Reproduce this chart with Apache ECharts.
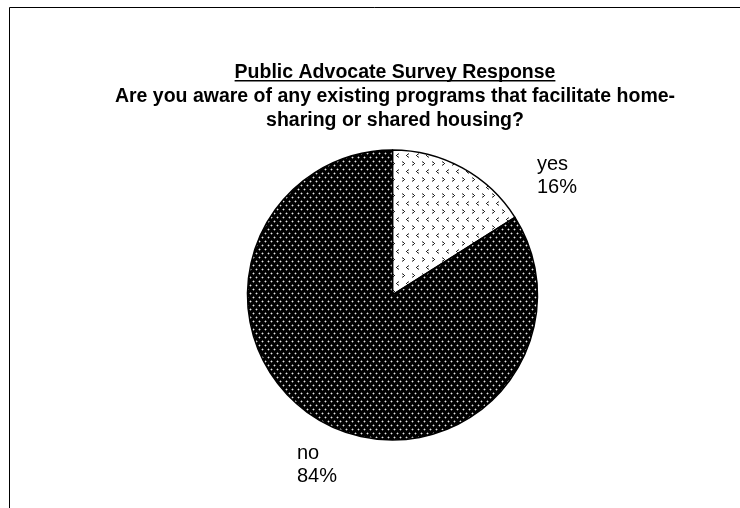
<!DOCTYPE html>
<html>
<head>
<meta charset="utf-8">
<script src="https://cdn.jsdelivr.net/npm/echarts@6/dist/echarts.min.js"></script>
<style>
  html, body { margin: 0; padding: 0; background: #fff; }
  #chart { width: 740px; height: 508px; }
</style>
</head>
<body>
<div id="chart"></div>
<script>
// Survey answers and their shares (percent)
const categories = ['yes', 'no'];
const shares = [16, 84];
const headline = 'Public Advocate Survey Response';
const question = ['Are you aware of any existing programs that facilitate home-', 'sharing or shared housing?'];

const FONT = '"Liberation Sans", Arial, sans-serif';
const TITLE_SIZE = 19.5;

// Fill textures for the two slices
function makeTile(w, h, draw) {
  const c = document.createElement('canvas');
  c.width = w; c.height = h;
  const ctx = c.getContext('2d');
  draw(ctx);
  return c;
}
// dark slice: black with staggered light dots
const dotTile = makeTile(6, 8, ctx => {
  ctx.fillStyle = '#000';
  ctx.fillRect(0, 0, 6, 8);
  [[1, 1], [4, 5]].forEach(([x, y]) => {
    ctx.fillStyle = '#5a5a5a';
    ctx.fillRect(x - 1, y, 3, 1);
    ctx.fillRect(x, y - 1, 1, 3);
    ctx.fillStyle = '#e8e8e8';
    ctx.fillRect(x, y, 1, 1);
  });
});
// light slice: white with small alternating chevrons
const chevronTile = makeTile(10, 16, ctx => {
  ctx.fillStyle = '#fff';
  ctx.fillRect(0, 0, 10, 16);
  const right = [[0, 0, '#777'], [1, 1, '#222'], [2, 2, '#222'], [1, 3, '#222'], [0, 4, '#777'], [0, 1, '#aaa'], [0, 3, '#aaa']];
  const left = [[2, 0, '#777'], [1, 1, '#222'], [0, 2, '#222'], [1, 3, '#222'], [2, 4, '#777'], [2, 1, '#aaa'], [2, 3, '#aaa']];
  right.forEach(([x, y, c]) => { ctx.fillStyle = c; ctx.fillRect(2 + x, 1 + y, 1, 1); });
  left.forEach(([x, y, c]) => { ctx.fillStyle = c; ctx.fillRect(6 + x, 9 + y, 1, 1); });
});
const fills = [
  { image: chevronTile, repeat: 'repeat' },
  { image: dotTile, repeat: 'repeat' }
];

// width of the headline for its underline
const measure = document.createElement('canvas').getContext('2d');
measure.font = 'bold ' + TITLE_SIZE + 'px ' + FONT;
const headW = measure.measureText(headline).width;
const titleX = 395;

const titleStyle = { fontFamily: FONT, fontWeight: 'bold', fontSize: TITLE_SIZE, color: '#000', lineHeight: 24 };

const chart = echarts.init(document.getElementById('chart'), null, { renderer: 'canvas' });
chart.setOption({
  backgroundColor: '#fff',
  animation: false,
  title: [
    { text: headline, left: titleX, top: 61, padding: 0, textAlign: 'center', textStyle: titleStyle },
    { text: question.join('\n'), left: titleX, top: 85, padding: 0, textAlign: 'center', textStyle: titleStyle }
  ],
  graphic: [
    {
      type: 'polyline', silent: true,
      shape: { points: [[9.5, 508], [9.5, 7.5], [740, 7.5]] },
      style: { stroke: '#000', lineWidth: 1, fill: null }
    },
    {
      type: 'rect', silent: true,
      shape: { x: titleX - headW / 2, y: 80, width: headW, height: 1.5 },
      style: { fill: '#000' }
    }
  ],
  series: [{
    type: 'pie',
    center: [392.5, 295],
    radius: 145,
    startAngle: 90,
    clockwise: true,
    data: categories.map((name, i) => ({
      name, value: shares[i],
      itemStyle: { color: fills[i] }
    })),
    itemStyle: { borderColor: '#000', borderWidth: 1.5 },
    label: {
      show: true,
      position: 'outside',
      formatter: p => p.name + '\n' + p.value + '%',
      fontFamily: FONT, fontSize: 20, color: '#000', lineHeight: 23, align: 'left'
    },
    labelLine: { show: false },
    labelLayout: p => p.dataIndex === 0
      ? { x: 537, y: 153, align: 'left', verticalAlign: 'top' }
      : { x: 297, y: 441.5, align: 'left', verticalAlign: 'top' },
    emphasis: { disabled: true }
  }]
});
</script>
</body>
</html>
